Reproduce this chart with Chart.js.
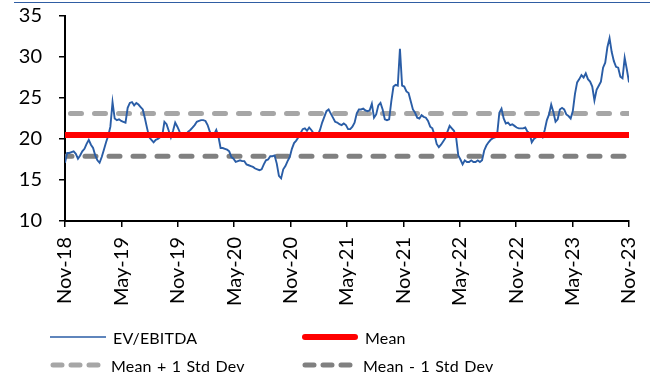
<!DOCTYPE html>
<html>
<head>
<meta charset="utf-8">
<script src="https://cdn.jsdelivr.net/npm/chart.js@4/dist/chart.umd.min.js"></script>
<style>
  html, body { margin: 0; padding: 0; background: #fff; }
  #wrap { position: relative; width: 656px; height: 376px; overflow: hidden; font-family: Lato, "Liberation Sans", sans-serif; }
  #topRule { position: absolute; left: 14px; top: 2px; width: 636px; height: 1px; background: #2F5DA3; }
  #c { position: absolute; left: 0; top: 0; }
  .lg { position: absolute; height: 20px; display: flex; align-items: center; font-size: 16px; color: #000; letter-spacing: 0.2px; word-spacing: 1px; }
  .lg svg { margin-right: 7px; }
</style>
</head>
<body>
<div id="wrap">
  <div id="topRule"></div>
  <canvas id="c" width="656" height="376"></canvas>
  <div id="legend"></div>
</div>
<script>
// Axis labels every six months
const tickLabels = ['Nov-18', 'May-19', 'Nov-19', 'May-20', 'Nov-20', 'May-21', 'Nov-21', 'May-22', 'Nov-22', 'May-23', 'Nov-23'];

// Weekly EV/EBITDA multiple, Nov-18 to Nov-23
const evEbitda = [
  17.1, 18.3, 18.3, 18.4, 18.5, 18.2, 17.6, 18.0, 18.5, 18.8,
  19.4, 19.9, 19.3, 18.9, 18.0, 17.4, 17.1, 17.8, 18.7, 19.6,
  20.4, 21.5, 24.5, 22.5, 22.3, 22.4, 22.2, 22.1, 22.0, 23.8,
  24.4, 24.5, 24.1, 24.4, 24.2, 23.9, 23.6, 22.5, 21.3, 20.2,
  19.9, 19.6, 19.9, 20.0, 20.2, 20.4, 22.1, 21.8, 21.0, 20.2,
  21.0, 22.0, 21.5, 20.9, 20.4, 20.4, 20.6, 20.9, 21.1, 21.4,
  21.7, 22.1, 22.2, 22.3, 22.3, 22.2, 21.7, 20.9, 20.5, 20.6,
  21.1, 20.3, 18.9, 18.9, 18.8, 18.7, 18.5, 17.8, 17.6, 17.2,
  17.3, 17.4, 17.3, 17.3, 16.9, 16.8, 16.7, 16.6, 16.4, 16.3,
  16.2, 16.3, 16.9, 17.4, 17.5, 17.9, 17.9, 18.0, 17.0, 15.5,
  15.2, 16.3, 16.7, 17.3, 17.8, 18.8, 19.5, 19.8, 20.2, 20.7,
  21.2, 21.3, 21.0, 21.4, 21.1, 20.7, 20.4, 20.5, 21.1, 22.0,
  22.7, 23.4, 23.6, 23.1, 22.6, 22.1, 22.0, 21.8, 21.7, 21.9,
  21.7, 21.2, 21.2, 21.5, 22.0, 23.1, 23.6, 23.6, 23.7, 23.5,
  23.4, 23.5, 24.3, 22.6, 23.0, 24.1, 24.4, 23.6, 22.4, 22.3,
  22.4, 24.6, 26.4, 26.6, 26.5, 31.0, 26.5, 26.4, 25.8, 25.6,
  24.6, 23.6, 23.2, 22.6, 22.5, 22.9, 22.7, 22.6, 22.2, 21.5,
  21.3, 20.5, 19.4, 19.0, 19.3, 19.7, 20.1, 20.9, 21.6, 21.3,
  21.0, 20.2, 18.0, 17.5, 16.9, 17.4, 17.2, 17.2, 17.4, 17.2,
  17.2, 17.4, 17.2, 17.4, 18.6, 19.2, 19.6, 19.9, 20.1, 20.2,
  20.6, 23.2, 23.7, 22.5, 21.9, 22.0, 21.7, 21.8, 21.6, 21.4,
  21.3, 21.3, 21.3, 21.4, 20.9, 20.7, 19.6, 20.0, 20.2, 20.3,
  20.4, 20.2, 21.1, 22.3, 23.0, 24.2, 23.3, 22.1, 22.4, 23.6,
  23.8, 23.6, 23.0, 22.8, 22.5, 23.4, 25.5, 26.9, 27.3, 27.8,
  27.5, 28.0, 27.3, 27.0, 26.4, 24.7, 26.0, 26.5, 27.0, 28.7,
  29.3, 31.2, 32.3, 30.6, 29.5, 28.8, 28.7, 27.6, 27.4, 29.9,
  28.5, 26.9
];

// Band levels
const meanLevel = [20.5];
const plusOneSdLevel = [23.1];
const minusOneSdLevel = [17.9];

const seriesNames = ['EV/EBITDA', 'Mean', 'Mean + 1 Std Dev', 'Mean - 1 Std Dev'];

const spanMonths = 60;
// sample dates spread evenly over the five-year window (in months from Nov-18)
const monthPos = evEbitda.map((_, i) => i * spanMonths / (evEbitda.length - 1));
const flat = (v) => [{ x: 0, y: v }, { x: spanMonths, y: v }];

const BLUE = '#2A5DA6', RED = '#FF0000', LIGHT = '#A6A6A6', DARK = '#808080';

const datasets = [
  { label: seriesNames[0], data: monthPos.map((m, i) => ({ x: m, y: evEbitda[i] })),
    borderColor: BLUE, borderWidth: 1.9, pointRadius: 0, tension: 0, order: 1 },
  { label: seriesNames[1], data: flat(meanLevel[0]),
    borderColor: RED, borderWidth: 6, pointRadius: 0, order: 0 },
  { label: seriesNames[2], data: flat(plusOneSdLevel[0]),
    borderColor: LIGHT, borderWidth: 5, borderDash: [11, 13], borderDashOffset: 18.5,
    borderCapStyle: 'round', pointRadius: 0, order: 2 },
  { label: seriesNames[3], data: flat(minusOneSdLevel[0]),
    borderColor: DARK, borderWidth: 5, borderDash: [11, 13], borderDashOffset: 4,
    borderCapStyle: 'round', pointRadius: 0, order: 2 }
];

const tickFont = { family: 'Lato, "Liberation Sans", sans-serif', size: 20 };

const chart = new Chart(document.getElementById('c'), {
  type: 'line',
  data: { datasets },
  options: {
    responsive: false,
    animation: false,
    devicePixelRatio: 1,
    layout: { padding: { top: 16, right: 27, left: 0, bottom: 0 } },
    plugins: { legend: { display: false }, tooltip: { enabled: false } },
    scales: {
      x: {
        type: 'linear', min: 0, max: spanMonths,
        afterBuildTicks: (s) => { s.ticks = tickLabels.map((_, i) => ({ value: i * 6 })); },
        afterFit: (s) => { s.height = 155; s.paddingLeft = 0; s.paddingRight = 0; },
        ticks: { autoSkip: false, minRotation: 90, maxRotation: 90, color: '#000', font: tickFont, padding: 10,
                 callback: (v) => tickLabels[Math.round(v / 6)] },
        grid: { drawOnChartArea: false, tickLength: 6, color: '#000', lineWidth: 1.5 },
        border: { color: '#000', width: 2 }
      },
      y: {
        min: 10, max: 35,
        afterBuildTicks: (s) => { s.ticks = [10, 15, 20, 25, 30, 35].map(v => ({ value: v })); },
        afterFit: (s) => { s.width = 65; s.paddingTop = 0; s.paddingBottom = 0; },
        ticks: { color: '#000', font: tickFont, padding: 17 },
        grid: { drawOnChartArea: false, tickLength: 6, color: '#000', lineWidth: 1.5 },
        border: { color: '#000', width: 2 }
      }
    }
  }
});

// Legend built from the chart's datasets, two columns
const legendSlots = [
  { left: 50, top: 327, w: 56 },
  { left: 302, top: 327, w: 56 },
  { left: 50, top: 355, w: 54 },
  { left: 302, top: 355, w: 54 }
];
const legendEl = document.getElementById('legend');
chart.data.datasets.forEach((ds, i) => {
  const slot = legendSlots[i];
  const item = document.createElement('div');
  item.className = 'lg';
  item.style.left = slot.left + 'px';
  item.style.top = slot.top + 'px';
  const lw = ds.borderWidth;
  const dash = ds.borderDash ? 'stroke-dasharray="9 9" stroke-linecap="round"' : (lw > 3 ? 'stroke-linecap="round"' : '');
  const pad = lw > 3 ? 3 : 0;
  item.innerHTML = `<svg width="${slot.w}" height="20"><line x1="${pad}" y1="10" x2="${slot.w - pad}" y2="10" stroke="${ds.borderColor}" stroke-width="${lw > 3 ? lw : 1.6}" ${dash}/></svg><span>${ds.label}</span>`;
  legendEl.appendChild(item);
});
</script>
</body>
</html>
